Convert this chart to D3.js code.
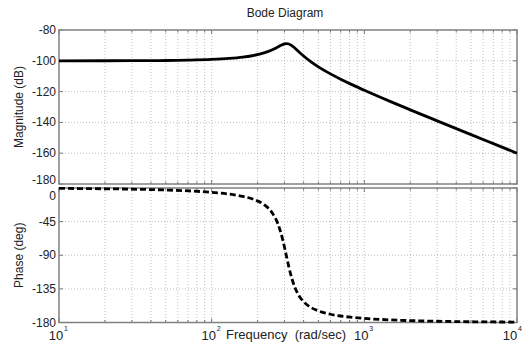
<!DOCTYPE html>
<html>
<head>
<meta charset="utf-8">
<script src="https://cdn.jsdelivr.net/npm/d3@7"></script>
<style>
  body { margin: 0; background: #fff; }
  svg { font-family: "Liberation Sans", Arial, sans-serif; }
  .grid line { stroke: #b0b0b0; stroke-width: 0.8; stroke-dasharray: 1,2; }
  .tick-label { font-size: 12px; fill: #222; }
</style>
</head>
<body>
<div id="chart"></div>
<script>
// frequencies read along the x axis (rad/sec)
const freq = [10, 20, 30, 50, 70, 100, 130, 160, 190, 220, 250, 270, 290, 300, 310, 320,
              335, 350, 375, 400, 450, 500, 600, 700, 850, 1000, 1500, 2000, 3000, 5000, 7000, 10000];
// magnitude (dB)
const magnitude = [-99.99, -99.97, -99.92, -99.79, -99.58, -99.13, -98.47, -97.58, -96.40, -94.82,
                   -92.77, -91.14, -89.59, -89.05, -88.86, -89.09, -90.15, -91.69, -94.43, -96.89,
                   -100.85, -103.9, -108.49, -111.95, -115.96, -119.14, -126.68, -131.84, -139.0,
                   -147.94, -153.8, -160.0];
// phase (deg)
const phase = [-0.52, -1.05, -1.58, -2.67, -3.84, -5.8, -8.18, -11.27, -15.58, -22.21,
               -33.68, -46.67, -66.72, -79.35, -92.65, -105.27, -121.0, -132.47, -144.75, -152.09,
               -160.17, -164.47, -168.96, -171.31, -173.34, -174.56, -176.56, -177.47, -178.34,
               -179.01, -179.29, -179.51];

const magTicks = [-80, -100, -120, -140, -160, -180];
const phaseTicks = [0, -45, -90, -135, -180];
const decades = [10, 100, 1000, 10000];
const decadeExp = ["1", "2", "3", "4"];

const W = 524, H = 347;
const left = 59, right = 517;
const magBox = {top: 30, bottom: 184};
const phBox = {top: 188, bottom: 322.5};

const svg = d3.select("#chart").append("svg")
    .attr("width", W)
    .attr("height", H);

const x = d3.scaleLog().domain([10, 10000]).range([left, right]);
const yMag = d3.scaleLinear().domain([-180, -80]).range([magBox.bottom, magBox.top]);
const yPh = d3.scaleLinear().domain([-180, 0]).range([phBox.bottom, phBox.top]);

// minor + major log grid positions
let logTicks = [];
decades.slice(0, 3).forEach(d => {
    for (let k = 1; k < 10; k++) logTicks.push(d * k);
});
logTicks.push(10000);

function drawPanel(y, ticks, box, labelShift) {
    let g = svg.append("g");

    let grid = g.append("g").attr("class", "grid");
    grid.selectAll(".vx")
        .data(logTicks.slice(1, -1))
        .enter().append("line")
        .attr("x1", d => x(d)).attr("x2", d => x(d))
        .attr("y1", box.top).attr("y2", box.bottom);
    grid.selectAll(".hy")
        .data(ticks.slice(1, -1))
        .enter().append("line")
        .attr("x1", left).attr("x2", right)
        .attr("y1", d => y(d)).attr("y2", d => y(d));

    // small inner tick marks
    let tk = g.append("g").attr("stroke", "#555").attr("stroke-width", 0.8);
    logTicks.forEach(d => {
        let len = decades.includes(d) ? 4 : 2.5;
        tk.append("line").attr("x1", x(d)).attr("x2", x(d)).attr("y1", box.top).attr("y2", box.top + len);
        tk.append("line").attr("x1", x(d)).attr("x2", x(d)).attr("y1", box.bottom).attr("y2", box.bottom - len);
    });
    ticks.forEach(d => {
        tk.append("line").attr("x1", left).attr("x2", left + 4).attr("y1", y(d)).attr("y2", y(d));
        tk.append("line").attr("x1", right).attr("x2", right - 4).attr("y1", y(d)).attr("y2", y(d));
    });

    g.append("rect")
        .attr("x", left).attr("y", box.top)
        .attr("width", right - left).attr("height", box.bottom - box.top)
        .attr("fill", "none")
        .attr("stroke", "#808080")
        .attr("stroke-width", 1.5);

    g.selectAll(".ylab")
        .data(ticks)
        .enter().append("text")
        .attr("class", "tick-label")
        .attr("x", left - 3)
        .attr("y", d => y(d) + 4 + labelShift(d))
        .attr("text-anchor", "end")
        .text(d => d);
    return g;
}

// the -180 / 0 labels meet at the panel seam; nudge them apart
drawPanel(yMag, magTicks, magBox, d => d === -180 ? -4 : 0);
drawPanel(yPh, phaseTicks, phBox, d => d === 0 ? 8 : 0);

const pts = freq.map((f, i) => ({f: f, m: magnitude[i], p: phase[i]}));

svg.append("path")
    .datum(pts)
    .attr("fill", "none")
    .attr("stroke", "#000")
    .attr("stroke-width", 2.8)
    .attr("d", d3.line().curve(d3.curveMonotoneX).x(d => x(d.f)).y(d => yMag(d.m)));

svg.append("path")
    .datum(pts)
    .attr("fill", "none")
    .attr("stroke", "#000")
    .attr("stroke-width", 2.8)
    .attr("stroke-dasharray", "6,3")
    .attr("d", d3.line().curve(d3.curveMonotoneX).x(d => x(d.f)).y(d => yPh(d.p)));

// x tick labels 10^n (last one pulled in so it stays inside the page)
decades.forEach((d, i) => {
    let off = i === decades.length - 1 ? -4 : 0;
    svg.append("text")
        .attr("class", "tick-label")
        .attr("x", x(d) - 3 + off)
        .attr("y", 340)
        .attr("text-anchor", "middle")
        .style("font-size", "13px")
        .text("10");
    svg.append("text")
        .attr("x", x(d) + 5 + off)
        .attr("y", 331)
        .style("font-size", "7px")
        .attr("fill", "#222")
        .text(decadeExp[i]);
});

svg.append("text")
    .attr("x", 286)
    .attr("y", 339)
    .attr("text-anchor", "middle")
    .style("font-size", "13px")
    .style("white-space", "pre")
    .attr("fill", "#222")
    .text("Frequency  (rad/sec)");

svg.append("text")
    .attr("x", 285)
    .attr("y", 17)
    .attr("text-anchor", "middle")
    .style("font-size", "12px")
    .attr("fill", "#222")
    .text("Bode Diagram");

svg.append("text")
    .attr("transform", "translate(23," + (magBox.top + magBox.bottom) / 2 + ") rotate(-90)")
    .attr("text-anchor", "middle")
    .style("font-size", "12px")
    .attr("fill", "#222")
    .text("Magnitude (dB)");

svg.append("text")
    .attr("transform", "translate(23," + (phBox.top + phBox.bottom) / 2 + ") rotate(-90)")
    .attr("text-anchor", "middle")
    .style("font-size", "12px")
    .attr("fill", "#222")
    .text("Phase (deg)");
</script>
</body>
</html>
